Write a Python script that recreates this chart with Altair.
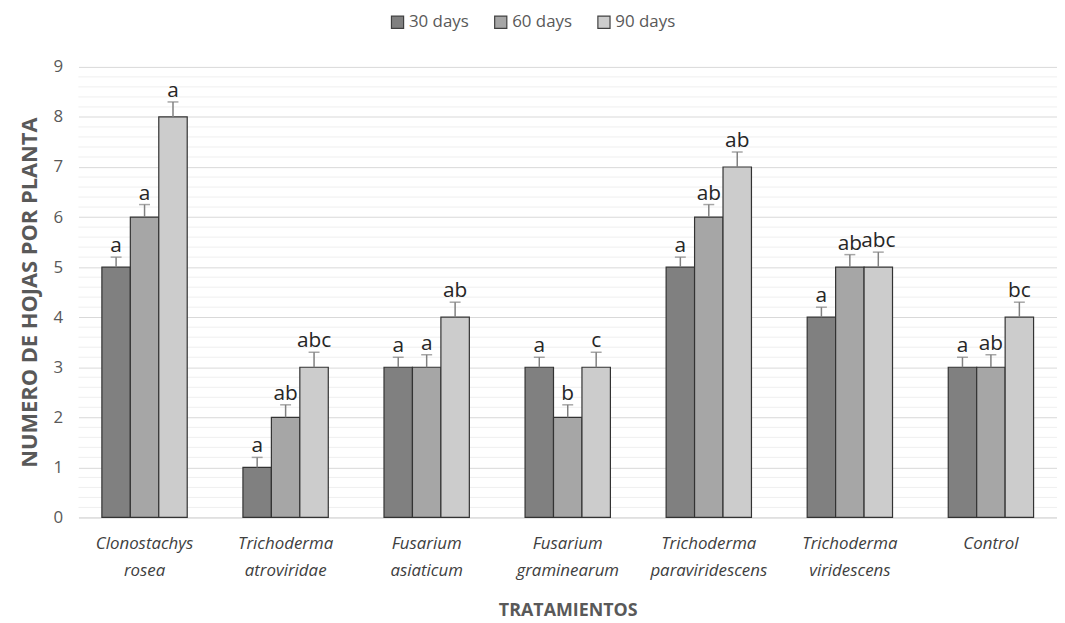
import altair as alt
import pandas as pd
import numpy as np

categories = ["Clonostachys\nrosea", "Trichoderma\natroviridae", "Fusarium\nasiaticum",
              "Fusarium\ngraminearum", "Trichoderma\nparaviridescens", "Trichoderma\nviridescens", "Control"]
series = ["30 days", "60 days", "90 days"]
d30 = [5, 1, 3, 3, 5, 4, 3]
d60 = [6, 2, 3, 2, 6, 5, 3]
d90 = [8, 3, 4, 3, 7, 5, 4]
e30 = [0.2, 0.2, 0.2, 0.2, 0.2, 0.2, 0.2]
e60 = [0.25, 0.25, 0.25, 0.25, 0.25, 0.25, 0.25]
e90 = [0.3, 0.3, 0.3, 0.3, 0.3, 0.3, 0.3]
l30 = ["a", "a", "a", "a", "a", "a", "a"]
l60 = ["a", "ab", "a", "b", "ab", "ab", "ab"]
l90 = ["a", "abc", "ab", "c", "ab", "abc", "bc"]
colors = ["#808080", "#a6a6a6", "#cccccc"]

rows = []
for s, vals, errs, labs in zip(series, [d30, d60, d90], [e30, e60, e90], [l30, l60, l90]):
    for c, v, e, l in zip(categories, vals, errs, labs):
        rows.append({"cat": c, "series": s, "value": v, "top": v + e, "letter": l})
df = pd.DataFrame(rows)

minor = pd.DataFrame({"y": [round(v, 1) for v in np.arange(0.2, 9.0, 0.2) if abs(v - round(v)) > 1e-6]})

FONT = "Open Sans"
W, H = 986, 454

x = alt.X("cat:N", sort=categories,
          scale=alt.Scale(paddingInner=0.395, paddingOuter=0.166, round=False),
          axis=alt.Axis(title="TRATAMIENTOS", labelAngle=0, labelExpr="split(datum.label, '\\n')",
                        labelFontStyle="italic", labelFontSize=17, labelColor="#404040",
                        labelFont=FONT, labelPadding=18, ticks=False, domainColor="#d9d9d9",
                        titleFont=FONT, titleFontSize=18, titleColor="#595959", titleFontWeight="bold",
                        titlePadding=24, labelLineHeight=27))
xo = alt.XOffset("series:N", sort=series, scale=alt.Scale(paddingInner=0, paddingOuter=0, round=False))
yscale = alt.Scale(domain=[0, 9], nice=False)

minor_layer = alt.Chart(minor).mark_rule(color="#efefef", strokeWidth=1).encode(
    y=alt.Y("y:Q", scale=yscale)
)

bars = alt.Chart(df).mark_bar(stroke="#333333", strokeWidth=1.2).encode(
    x=x, xOffset=xo,
    y=alt.Y("value:Q", scale=yscale,
            axis=alt.Axis(title="NUMERO DE HOJAS POR PLANTA", values=list(range(10)), grid=True,
                          gridColor="#d9d9d9", domain=False, ticks=False, labelFontSize=17,
                          labelColor="#595959", labelFont=FONT, labelPadding=16,
                          titleFont=FONT, titleFontSize=22, titleColor="#595959",
                          titleFontWeight="bold", titlePadding=12)),
    color=alt.Color("series:N", sort=series, scale=alt.Scale(domain=series, range=colors),
                    legend=alt.Legend(title=None, orient="none", direction="horizontal",
                                      legendX=313, legendY=-54, symbolType="square", symbolSize=150,
                                      symbolStrokeColor="#404040", symbolStrokeWidth=1.2,
                                      labelFont=FONT, labelFontSize=17, labelColor="#595959",
                                      columnPadding=22, symbolOffset=0, labelOffset=3)),
)

err = alt.Chart(df).mark_rule(color="#808080", strokeWidth=1.5).encode(
    x=x, xOffset=xo, y=alt.Y("value:Q", scale=yscale), y2="top:Q"
)
cap = alt.Chart(df).mark_tick(color="#808080", thickness=1.5, size=11, orient="horizontal").encode(
    x=x, xOffset=xo, y=alt.Y("top:Q", scale=yscale)
)
txt = alt.Chart(df).mark_text(baseline="bottom", dy=-1, fontSize=21, color="#262626", font=FONT).encode(
    x=x, xOffset=xo, y=alt.Y("top:Q", scale=yscale), text="letter:N"
)

chart = alt.layer(minor_layer, bars, err, cap, txt).properties(
    width=W, height=H, autosize=alt.AutoSizeParams(type="none"),
    padding={"left": 71, "top": 57, "right": 0, "bottom": 104}
).configure(background="white").configure_view(stroke=None)

chart.save("out.html", embed_options={"renderer": "svg", "actions": False})
